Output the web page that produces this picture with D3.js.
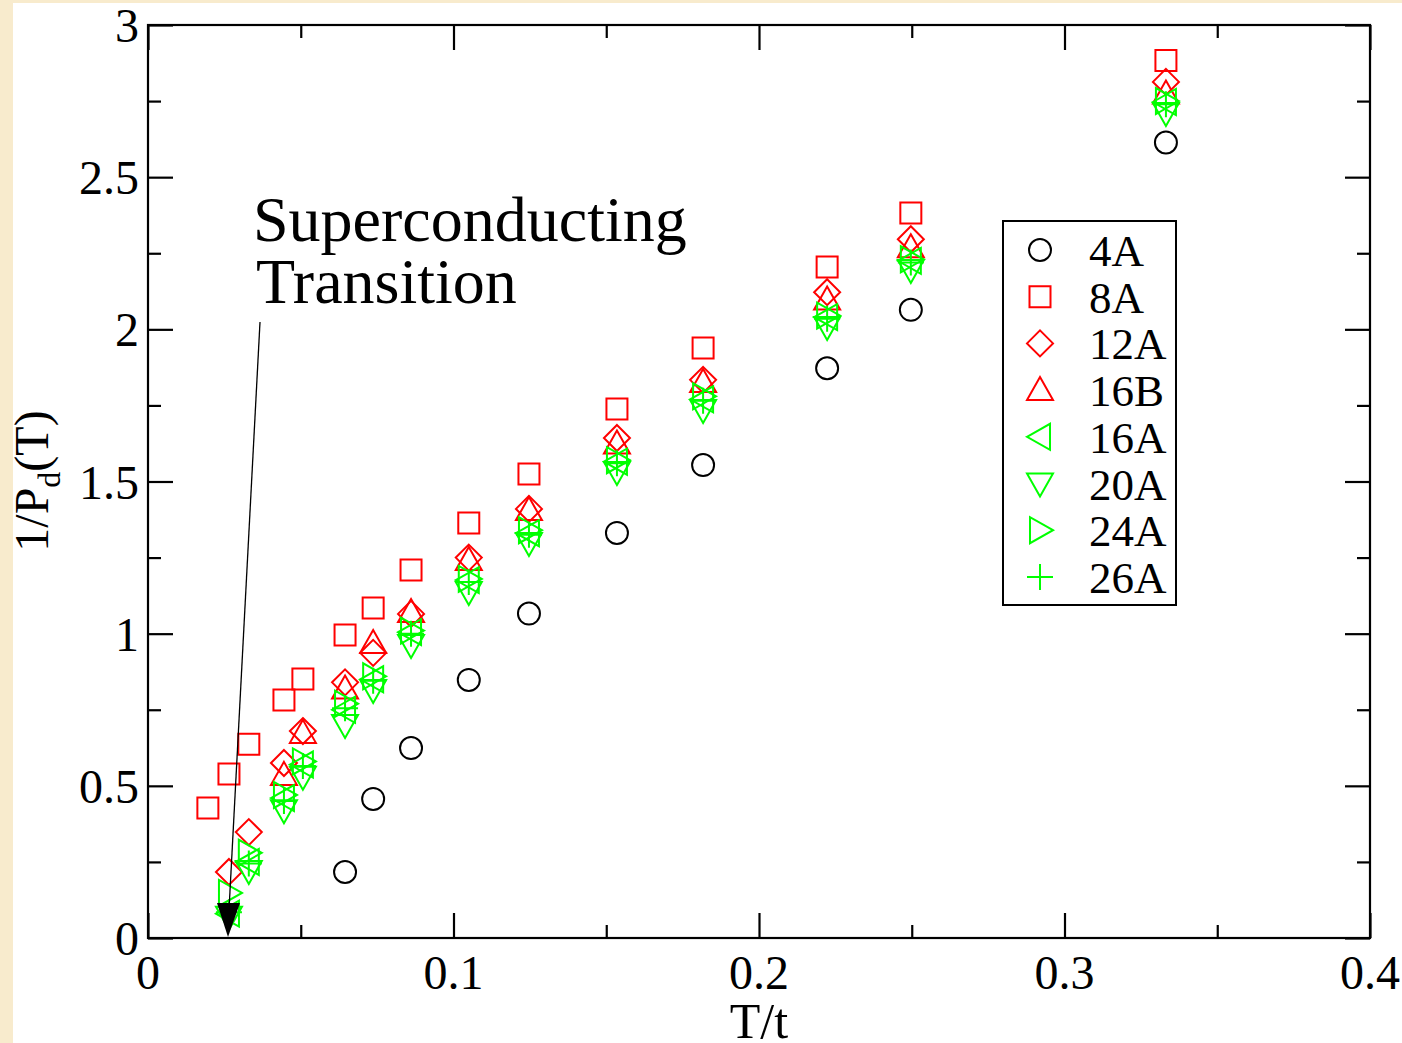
<!DOCTYPE html>
<html>
<head>
<meta charset="utf-8">
<script src="https://cdn.jsdelivr.net/npm/d3@7"></script>
<style>
  html, body { margin: 0; padding: 0; background: #f8ebcd; }
  svg { display: block; }
  text { font-family: "Liberation Serif", "DejaVu Serif", serif; fill: #000; }
</style>
</head>
<body>
<div id="chart"></div>
<script>
// T/t values of the columns
var temps = [0.0196, 0.0265, 0.0330, 0.0445, 0.0507, 0.0645, 0.0737, 0.0861, 0.1050, 0.1247, 0.1535, 0.1817, 0.2223, 0.2497, 0.3332];

// 1/Pd(T) for each sample, null where there is no point
var s4A  = [null, null, null, null, null, 0.217, 0.457, 0.624, 0.848, 1.066, 1.331, 1.554, 1.872, 2.064, 2.614];
var s8A  = [0.427, 0.539, 0.637, 0.782, 0.851, 0.996, 1.084, 1.209, 1.364, 1.525, 1.738, 1.939, 2.205, 2.382, 2.883];
var s12A = [null, 0.217, 0.348, 0.575, 0.680, 0.840, 0.937, 1.065, 1.250, 1.410, 1.643, 1.834, 2.122, 2.296, 2.813];
var s16B = [null, null, null, 0.536, 0.674, 0.820, 0.969, 1.071, 1.242, 1.406, 1.625, 1.827, 2.098, 2.270, 2.775];
var s16A = [null, 0.080, 0.250, 0.460, 0.570, 0.750, 0.850, 1.005, 1.176, 1.330, 1.565, 1.770, 2.040, 2.225, 2.747];
var s20A = [null, 0.070, 0.220, 0.420, 0.530, 0.700, 0.815, 0.963, 1.137, 1.298, 1.531, 1.735, 2.008, 2.195, 2.711];
var s24A = [null, 0.148, 0.280, 0.470, 0.580, 0.770, 0.860, 1.010, 1.180, 1.340, 1.570, 1.780, 2.045, 2.230, 2.750];
var s26A = [null, 0.085, 0.245, 0.450, 0.565, 0.755, 0.845, 1.000, 1.170, 1.325, 1.560, 1.765, 2.035, 2.220, 2.740];

var names   = ["4A", "8A", "12A", "16B", "16A", "20A", "24A", "26A"];
var values  = [s4A, s8A, s12A, s16B, s16A, s20A, s24A, s26A];
var colors  = ["#000000", "#ff0000", "#ff0000", "#ff0000", "#00ff00", "#00ff00", "#00ff00", "#00ff00"];
var shapes  = ["circle", "square", "diamond", "up", "left", "down", "right", "plus"];

var xTicks = [0, 0.1, 0.2, 0.3, 0.4];
var yTicks = [0, 0.5, 1, 1.5, 2, 2.5, 3];

var W = 1402, H = 1043;

var svg = d3.select("#chart").append("svg")
    .attr("width", W)
    .attr("height", H);

// white page area over the yellow background
svg.append("rect")
    .attr("x", 13).attr("y", 3)
    .attr("width", W - 13).attr("height", H - 3)
    .attr("fill", "#fff");

var x = d3.scaleLinear().domain([0, 0.4]).range([148, 1370]);
var y = d3.scaleLinear().domain([0, 3]).range([938, 25]);

// marker paths drawn like xmgrace symbols
function marker(shape) {
    var p = d3.path();
    if (shape == "circle") {
        p.arc(0, 0, 11, 0, 2 * Math.PI);
    } else if (shape == "square") {
        p.rect(-10.5, -10.5, 21, 21);
    } else if (shape == "diamond") {
        p.moveTo(0, -13); p.lineTo(13, 0); p.lineTo(0, 13); p.lineTo(-13, 0); p.closePath();
    } else if (shape == "up") {
        p.moveTo(0, -13); p.lineTo(13, 10); p.lineTo(-13, 10); p.closePath();
    } else if (shape == "down") {
        p.moveTo(0, 13); p.lineTo(13, -10); p.lineTo(-13, -10); p.closePath();
    } else if (shape == "left") {
        p.moveTo(-13, 0); p.lineTo(10, -13); p.lineTo(10, 13); p.closePath();
    } else if (shape == "right") {
        p.moveTo(13, 0); p.lineTo(-10, -13); p.lineTo(-10, 13); p.closePath();
    } else {
        p.moveTo(-13, 0); p.lineTo(13, 0); p.moveTo(0, -13); p.lineTo(0, 13);
    }
    return p.toString();
}

// frame
svg.append("rect")
    .attr("x", x(0)).attr("y", y(3))
    .attr("width", x(0.4) - x(0)).attr("height", y(0) - y(3))
    .attr("fill", "none")
    .attr("stroke", "#000")
    .attr("stroke-width", 2.2);

// inward ticks on all four sides (major + minor)
var xMinor = d3.range(0.05, 0.4, 0.1);
var yMinor = d3.range(0.25, 3, 0.5);

var axes = [
    {a: d3.axisTop(x), t: "translate(0," + y(0) + ")", maj: xTicks, min: xMinor},
    {a: d3.axisBottom(x), t: "translate(0," + y(3) + ")", maj: xTicks, min: xMinor},
    {a: d3.axisRight(y), t: "translate(" + x(0) + ",0)", maj: yTicks, min: yMinor},
    {a: d3.axisLeft(y), t: "translate(" + x(0.4) + ",0)", maj: yTicks, min: yMinor}
];
axes.forEach(function(d) {
    [[d.maj, 25], [d.min, 13]].forEach(function(m) {
        d.a.tickValues(m[0]).tickSizeInner(m[1]).tickSizeOuter(0).tickFormat("");
        var g = svg.append("g")
            .attr("transform", d.t)
            .call(d.a);
        g.select(".domain").remove();
        g.selectAll("line").attr("stroke", "#000").attr("stroke-width", 2.2);
    });
});

// tick labels
svg.append("g").selectAll("text")
    .data(xTicks)
    .enter()
    .append("text")
    .attr("x", function(d) { return x(d); })
    .attr("y", 989)
    .attr("text-anchor", "middle")
    .attr("font-size", 48)
    .text(function(d) { return d; });

svg.append("g").selectAll("text")
    .data(yTicks)
    .enter()
    .append("text")
    .attr("x", 139)
    .attr("y", function(d) { return y(d) + 17; })
    .attr("text-anchor", "end")
    .attr("font-size", 48)
    .text(function(d) { return d; });

// axis titles
svg.append("text")
    .attr("x", 759)
    .attr("y", 1038)
    .attr("text-anchor", "middle")
    .attr("font-size", 50)
    .text("T/t");

var yt = svg.append("text")
    .attr("transform", "translate(48,481) rotate(-90)")
    .attr("text-anchor", "middle")
    .attr("font-size", 48);
yt.append("tspan").text("1/P");
yt.append("tspan").attr("font-size", 32).attr("dy", 12).text("d");
yt.append("tspan").attr("dy", -12).text("(T)");

// data points
var series = names.map(function(n, i) {
    var pts = [];
    values[i].forEach(function(v, j) {
        if (v != null) pts.push({x: temps[j], y: v});
    });
    return {name: n, color: colors[i], shape: shapes[i], pts: pts};
});

series.forEach(function(s) {
    svg.append("g")
        .selectAll("path")
        .data(s.pts)
        .enter()
        .append("path")
        .attr("transform", function(d) { return "translate(" + x(d.x) + "," + y(d.y) + ")"; })
        .attr("d", marker(s.shape))
        .attr("fill", "none")
        .attr("stroke", s.color)
        .attr("stroke-width", 2);
});

// annotation with arrow
svg.append("text")
    .attr("x", 253).attr("y", 241)
    .attr("font-size", 64)
    .text("Superconducting");
svg.append("text")
    .attr("x", 256).attr("y", 303)
    .attr("font-size", 64)
    .text("Transition");

svg.append("line")
    .attr("x1", 260).attr("y1", 322)
    .attr("x2", 229).attr("y2", 910)
    .attr("stroke", "#000")
    .attr("stroke-width", 1.3);
svg.append("path")
    .attr("d", "M217,903 L240,903 L228,937 Z")
    .attr("fill", "#000");

// legend
var lg = svg.append("g");
lg.append("rect")
    .attr("x", 1003).attr("y", 221)
    .attr("width", 173).attr("height", 384)
    .attr("fill", "#fff")
    .attr("stroke", "#000")
    .attr("stroke-width", 2);

var rows = lg.selectAll("g.row")
    .data(series)
    .enter()
    .append("g")
    .attr("class", "row")
    .attr("transform", function(d, i) { return "translate(0," + (250 + i * 46.7) + ")"; });

rows.append("path")
    .attr("transform", "translate(1040,0)")
    .attr("d", function(d) { return marker(d.shape); })
    .attr("fill", "none")
    .attr("stroke", function(d) { return d.color; })
    .attr("stroke-width", 2);

rows.append("text")
    .attr("x", 1089)
    .attr("y", 16)
    .attr("font-size", 45)
    .text(function(d) { return d.name; });
</script>
</body>
</html>
